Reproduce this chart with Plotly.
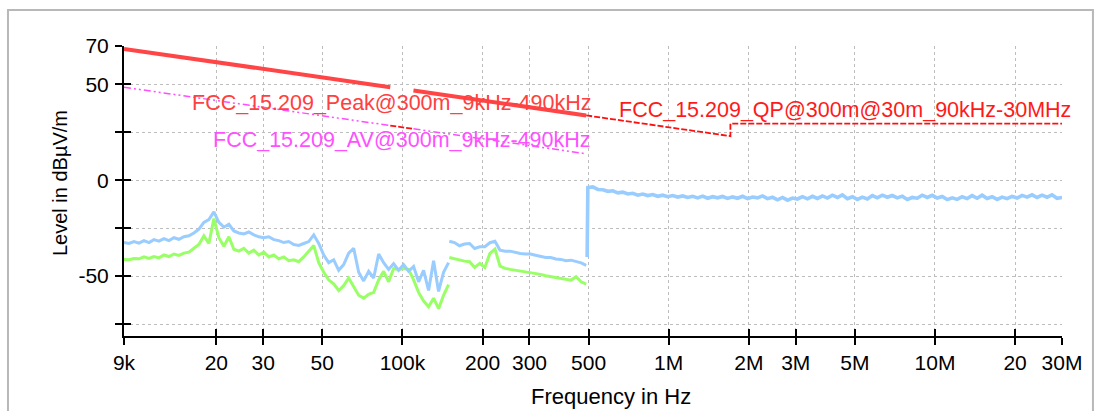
import numpy as np
import plotly.graph_objects as go

# ---------------- limit lines (frequency in Hz, level in dBuV/m) ----------------
peak_f_lo = [9e3, 20e3, 30e3, 50e3, 90e3]
peak_v_lo = [68.5, 61.6, 58.0, 53.6, 48.5]
peak_f_hi = [110e3, 200e3, 300e3, 490e3]
peak_v_hi = [46.8, 41.6, 38.1, 33.8]

av_f_lo = [9e3, 20e3, 30e3, 50e3, 90e3]
av_v_lo = [48.5, 41.6, 38.0, 33.6, 28.5]
av_f_hi = [110e3, 200e3, 300e3, 490e3]
av_v_hi = [26.8, 21.6, 18.1, 13.8]

qp_f_lo = [90e3, 110e3]
qp_v_lo = [28.5, 26.8]
qp_f_hi = [490e3, 1.705e6, 1.705e6, 30e6]
qp_v_hi = [33.8, 23.0, 29.5, 29.5]

# ---------------- measured traces ----------------
# 9 kHz .. 149 kHz sweep
blue_a = [-32.5, -33.0, -32.0, -32.8, -31.5, -32.5, -31.0, -31.8, -30.5, -31.5,
          -30.0, -30.8, -29.5, -29.0, -27.5, -25.5, -22.0, -20.5, -16.5, -22.0,
          -24.5, -23.0, -26.5, -27.5, -28.0, -27.0, -28.5, -29.5, -30.0, -29.5,
          -31.0, -31.5, -32.5, -32.0, -33.5, -34.0, -33.0, -32.0, -28.5, -33.0,
          -39.0, -43.0, -41.5, -47.0, -44.0, -38.0, -35.5, -48.0, -52.5, -47.5,
          -51.0, -38.5, -43.0, -46.5, -43.5, -47.0, -44.0, -47.5, -45.0, -53.0,
          -47.0, -57.5, -42.0, -58.0, -48.0, -43.0]
green_a = [-41.3, -41.5, -40.8, -41.0, -40.0, -40.8, -39.8, -40.5, -39.0, -39.8,
           -38.5, -39.2, -38.0, -37.5, -35.5, -33.5, -29.0, -33.0, -20.0, -30.0,
           -34.5, -29.5, -36.0, -37.0, -35.5, -38.0, -36.5, -39.0, -37.5, -40.0,
           -39.0, -41.0, -40.0, -42.0, -41.5, -42.5, -40.0, -37.0, -34.0, -43.0,
           -48.0, -52.0, -54.0, -57.5, -55.0, -51.0, -55.5, -60.0, -61.5, -59.5,
           -58.5, -52.0, -47.5, -53.0, -46.0, -46.5, -46.0, -46.5, -52.0, -58.5,
           -63.0, -66.0, -61.5, -67.0, -60.0, -54.5]

# 150 kHz .. 490 kHz sweep
blue_b = [-31.8, -32.5, -34.2, -33.3, -33.0, -35.6, -34.7, -34.7, -32.6, -31.8,
          -36.5, -37.0, -37.0, -37.7, -38.2, -38.5, -38.5, -39.1, -39.8, -40.3,
          -40.3, -41.1, -41.3, -42.0, -41.7, -42.5, -43.1, -44.4]
green_b = [-40.3, -41.0, -41.7, -42.2, -42.5, -45.5, -43.4, -45.5, -38.2, -35.9,
           -44.8, -46.0, -46.5, -46.9, -47.2, -47.9, -48.3, -48.6, -49.1, -49.8,
           -50.3, -50.7, -51.2, -51.7, -52.1, -50.3, -53.0, -54.2]

# 494 kHz .. 30 MHz sweep
blue_c = [-40.0,
          -3.8, -3.5, -4.8, -5.0, -5.8, -5.5, -6.6, -6.2, -7.2, -6.8,
          -7.8, -7.2, -8.0, -7.5, -8.4, -7.8, -8.6, -8.0, -8.8, -8.2,
          -9.0, -8.4, -9.2, -8.3, -9.4, -8.6, -9.2, -8.5, -9.5, -8.7,
          -9.4, -8.4, -9.6, -8.8, -9.2, -8.2, -9.6, -8.9, -10.2, -9.0,
          -10.4, -9.3, -9.8, -8.6, -9.7, -8.4, -9.5, -8.2, -9.3, -7.8,
          -9.0, -7.6, -9.6, -8.6, -10.0, -8.8, -9.8, -8.0, -9.2, -7.8,
          -8.9, -8.0, -9.2, -8.3, -10.0, -9.0, -9.4, -7.8, -9.0, -7.9,
          -9.3, -8.5, -10.1, -9.2, -10.0, -8.6, -9.6, -8.0, -9.4, -7.8,
          -9.5, -8.6, -10.0, -8.8, -9.6, -8.4, -9.3, -7.9, -8.8, -7.6,
          -9.0, -7.8, -8.9, -7.6, -9.4, -9.0]

freq_a = np.geomspace(9e3, 149e3, len(blue_a))
freq_b = np.geomspace(150e3, 490e3, len(blue_b))
freq_c = np.concatenate([[494e3], np.geomspace(497e3, 30e6, len(blue_c) - 1)])

x_tickvals = [9e3, 20e3, 30e3, 50e3, 100e3, 200e3, 300e3, 500e3,
              1e6, 2e6, 3e6, 5e6, 10e6, 20e6, 30e6]
x_ticktext = ["9k", "20", "30", "50", "100k", "200", "300", "500",
              "1M", "2M", "3M", "5M", "10M", "20", "30M"]
y_tickvals = [70, 50, 25, 0, -25, -50, -75]
y_ticktext = ["70", "50", "", "0", "", "-50", ""]

BLUE = "#99ccff"
GREEN = "#99ff66"
RED = "#ff4545"
QP_RED = "#ff1010"
MAGENTA = "#ff4dff"
FONT = "Liberation Sans"

fig = go.Figure()

for f, v in [(freq_a, green_a), (freq_b, green_b)]:
    fig.add_trace(go.Scatter(x=f, y=v, mode="lines",
                             line=dict(color=GREEN, width=3)))
for f, v, w in [(freq_a, blue_a, 3), (freq_b, blue_b, 3), (freq_c, blue_c, 3.6)]:
    fig.add_trace(go.Scatter(x=f, y=v, mode="lines",
                             line=dict(color=BLUE, width=w)))

for f, v in [(av_f_lo, av_v_lo), (av_f_hi, av_v_hi)]:
    fig.add_trace(go.Scatter(x=f, y=v, mode="lines",
                             line=dict(color=MAGENTA, width=1.5,
                                       dash="7px,3px,2px,3px,2px,3px")))
for f, v in [(qp_f_lo, qp_v_lo), (qp_f_hi, qp_v_hi)]:
    fig.add_trace(go.Scatter(x=f, y=v, mode="lines",
                             line=dict(color=QP_RED, width=1.8, dash="6px,2px")))
for f, v in [(peak_f_lo, peak_v_lo), (peak_f_hi, peak_v_hi)]:
    fig.add_trace(go.Scatter(x=f, y=v, mode="lines",
                             line=dict(color=RED, width=4)))

# empty traces that carry the inner half of the crossing tick marks
fig.add_trace(go.Scatter(x=[], y=[], xaxis="x2", yaxis="y2"))

x_range = [np.log10(9e3), np.log10(30e6)]
y_range = [-81.25, 70]

common_x = dict(type="log", range=x_range, tickmode="array",
                tickvals=x_tickvals, ticklen=7, tickwidth=2, tickcolor="black")
common_y = dict(range=y_range, tickmode="array", tickvals=y_tickvals,
                ticklen=7, tickwidth=2, tickcolor="black")

fig.update_layout(
    width=1100, height=411,
    margin=dict(l=124, r=38, t=46, b=75),
    paper_bgcolor="white", plot_bgcolor="white",
    showlegend=False,
    font=dict(family=FONT, size=21, color="black"),
    xaxis=dict(**common_x, ticktext=x_ticktext, ticks="outside",
               showline=True, linecolor="black", linewidth=2,
               showgrid=True, gridcolor="#bdbdbd", griddash="dot", gridwidth=1,
               zeroline=False, tickfont=dict(family=FONT, size=21),
               ticklabelstandoff=0),
    yaxis=dict(**common_y, ticktext=y_ticktext, ticks="outside",
               showline=True, linecolor="black", linewidth=2,
               showgrid=True, gridcolor="#bdbdbd", griddash="dot", gridwidth=1,
               zeroline=False, tickfont=dict(family=FONT, size=21),
               ticklabelstandoff=2),
    xaxis2=dict(**common_x, overlaying="x", anchor="y", side="bottom",
                ticks="inside", showticklabels=False, showgrid=False,
                showline=False, zeroline=False),
    yaxis2=dict(**common_y, overlaying="y", anchor="x", side="left",
                ticks="inside", showticklabels=False, showgrid=False,
                showline=False, zeroline=False),
)

annotations = [
    dict(text="FCC_15.209_Peak@300m_9kHz-490kHz", x=0.0704, y=0.8034,
         color="#ff4040"),
    dict(text="FCC_15.209_AV@300m_9kHz-490kHz", x=0.0928, y=0.6759,
         color="#ff50ff"),
    dict(text="FCC_15.209_QP@300m@30m_90kHz-30MHz", x=0.5256, y=0.7810,
         color="#ff1a1a"),
]
for a in annotations:
    fig.add_annotation(text=a["text"], x=a["x"], y=a["y"], xref="paper",
                       yref="paper", xanchor="left", yanchor="middle",
                       showarrow=False,
                       font=dict(family=FONT, size=21.5, color=a["color"]))

fig.add_annotation(text="Level in dB\u00b5V/m", x=-0.0682, y=0.5276,
                   xref="paper", yref="paper", textangle=-90,
                   xanchor="center", yanchor="middle", showarrow=False,
                   font=dict(family=FONT, size=20, color="black"))
fig.add_annotation(text="Frequency in Hz", x=0.5192, y=-0.2069,
                   xref="paper", yref="paper", xanchor="center",
                   yanchor="middle", showarrow=False,
                   font=dict(family=FONT, size=22, color="black"))

# outer frame of the chart panel
fig.add_shape(type="rect", xref="paper", yref="paper",
              x0=-0.1237, x1=1.0330, y0=-0.35, y1=1.1241,
              line=dict(color="#b8b8b8", width=2), layer="below")

fig.write_html("out.html")
